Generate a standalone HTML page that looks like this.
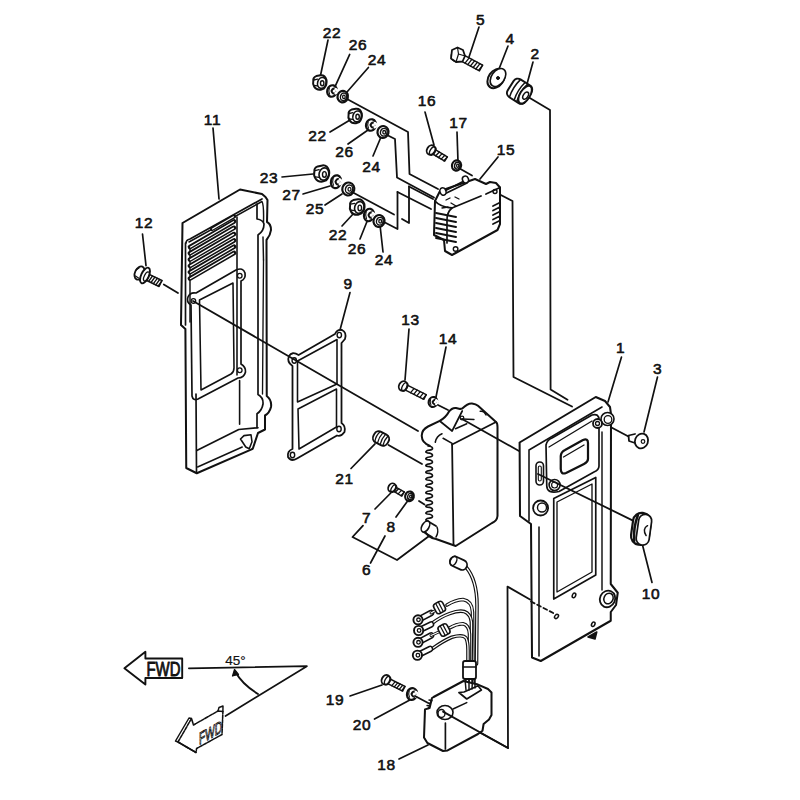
<!DOCTYPE html>
<html><head><meta charset="utf-8"><style>
html,body{margin:0;padding:0;background:#fff;width:800px;height:800px;overflow:hidden}
svg{display:block}
text{font-family:"Liberation Sans",sans-serif;fill:#111;stroke:#111;stroke-width:0.6px;text-anchor:middle}
</style></head><body>
<svg width="800" height="800" viewBox="0 0 800 800">
<g fill="none" stroke="#111" stroke-linecap="round" stroke-linejoin="round">
<text x="332" y="37.5" font-size="15.5" letter-spacing="0.6" >22</text>
<text x="358" y="49.7" font-size="15.5" letter-spacing="0.6" >26</text>
<text x="377" y="64.7" font-size="15.5" letter-spacing="0.6" >24</text>
<text x="480.5" y="25" font-size="15.5" letter-spacing="0.6" >5</text>
<text x="510" y="44" font-size="15.5" letter-spacing="0.6" >4</text>
<text x="535" y="59" font-size="15.5" letter-spacing="0.6" >2</text>
<text x="427" y="106" font-size="15.5" letter-spacing="0.6" >16</text>
<text x="458.5" y="128" font-size="15.5" letter-spacing="0.6" >17</text>
<text x="506" y="155" font-size="15.5" letter-spacing="0.6" >15</text>
<text x="317.5" y="141" font-size="15.5" letter-spacing="0.6" >22</text>
<text x="344.5" y="157" font-size="15.5" letter-spacing="0.6" >26</text>
<text x="371.5" y="172" font-size="15.5" letter-spacing="0.6" >24</text>
<text x="269" y="183" font-size="15.5" letter-spacing="0.6" >23</text>
<text x="291.5" y="200" font-size="15.5" letter-spacing="0.6" >27</text>
<text x="315" y="214" font-size="15.5" letter-spacing="0.6" >25</text>
<text x="338" y="240" font-size="15.5" letter-spacing="0.6" >22</text>
<text x="357" y="254" font-size="15.5" letter-spacing="0.6" >26</text>
<text x="384" y="265" font-size="15.5" letter-spacing="0.6" >24</text>
<text x="212.5" y="125" font-size="15.5" letter-spacing="0.6" >11</text>
<text x="144" y="228" font-size="15.5" letter-spacing="0.6" >12</text>
<text x="348" y="289" font-size="15.5" letter-spacing="0.6" >9</text>
<text x="410.5" y="325" font-size="15.5" letter-spacing="0.6" >13</text>
<text x="448" y="344" font-size="15.5" letter-spacing="0.6" >14</text>
<text x="620.5" y="352.5" font-size="15.5" letter-spacing="0.6" >1</text>
<text x="657.5" y="374" font-size="15.5" letter-spacing="0.6" >3</text>
<text x="344.6" y="484" font-size="15.5" letter-spacing="0.6" >21</text>
<text x="366.5" y="522.5" font-size="15.5" letter-spacing="0.6" >7</text>
<text x="391" y="531.5" font-size="15.5" letter-spacing="0.6" >8</text>
<text x="366.5" y="575" font-size="15.5" letter-spacing="0.6" >6</text>
<text x="651" y="599" font-size="15.5" letter-spacing="0.6" >10</text>
<text x="335" y="705" font-size="15.5" letter-spacing="0.6" >19</text>
<text x="362" y="730" font-size="15.5" letter-spacing="0.6" >20</text>
<text x="386.5" y="770" font-size="15.5" letter-spacing="0.6" >18</text>
<path d="M328.0,40.0 L320.6,75.0" stroke-width="1.68" />
<path d="M349.7,54.4 L335.6,85.3" stroke-width="1.68" />
<path d="M368.4,67.5 L347.0,92.0" stroke-width="1.68" />
<path d="M479.0,27.0 L469.0,57.0" stroke-width="1.68" />
<path d="M508.0,46.0 L499.0,69.0" stroke-width="1.68" />
<path d="M533.0,62.0 L527.0,84.0" stroke-width="1.68" />
<path d="M425.0,112.0 L434.0,145.0" stroke-width="1.68" />
<path d="M457.0,132.0 L458.0,162.0" stroke-width="1.68" />
<path d="M498.0,157.0 L480.0,179.0" stroke-width="1.68" />
<path d="M330.0,132.0 L350.0,120.0" stroke-width="1.68" />
<path d="M348.0,144.0 L368.0,130.0" stroke-width="1.68" />
<path d="M373.0,156.0 L381.0,137.0" stroke-width="1.68" />
<path d="M282.0,177.0 L313.0,174.0" stroke-width="1.68" />
<path d="M303.0,194.0 L330.0,186.0" stroke-width="1.68" />
<path d="M325.0,205.0 L342.0,194.0" stroke-width="1.68" />
<path d="M342.0,226.0 L354.0,213.0" stroke-width="1.68" />
<path d="M360.0,239.0 L368.0,219.0" stroke-width="1.68" />
<path d="M383.0,252.0 L380.0,225.0" stroke-width="1.68" />
<path d="M213.0,128.0 L219.0,199.0" stroke-width="1.68" />
<path d="M142.5,234.0 L146.0,265.6" stroke-width="1.68" />
<path d="M350.0,292.5 L340.0,330.0" stroke-width="1.68" />
<path d="M409.0,329.0 L405.0,380.0" stroke-width="1.68" />
<path d="M446.0,347.0 L436.0,397.0" stroke-width="1.68" />
<path d="M621.5,357.0 L608.0,402.0" stroke-width="1.68" />
<path d="M657.5,377.0 L644.0,432.0" stroke-width="1.68" />
<path d="M351.0,468.5 L375.0,443.8" stroke-width="1.68" />
<path d="M375.0,509.0 L390.8,493.0" stroke-width="1.68" />
<path d="M396.0,517.0 L407.6,501.0" stroke-width="1.68" />
<path d="M370.5,563.0 L385.0,536.0" stroke-width="1.68" />
<path d="M642.5,545.0 L652.0,582.5" stroke-width="1.68" />
<path d="M350.0,696.0 L382.0,685.0" stroke-width="1.68" />
<path d="M374.5,719.0 L409.8,700.0" stroke-width="1.68" />
<path d="M399.0,759.0 L428.0,745.0" stroke-width="1.68" />
<path d="M313.3,80.8 Q312.9,77.4 316.3,76.1 L320.6,75.3 Q324.8,74.8 326.5,80.0 Q327.3,85.0 323.9,88.5 L320.6,89.7 Q316.3,90.2 314.2,86.8 Q312.5,84.2 313.3,80.8 Z" stroke-width="2" fill="#fff"/>
<ellipse cx="321.8" cy="82.9" rx="4.2" ry="5.5" transform="rotate(15 321.8 82.9)" stroke-width="1.6"/>
<ellipse cx="322.2" cy="83.3" rx="1.7" ry="2.5" stroke-width="1.4"/>
<path d="M313.8,80.0 L317.6,79.1 M314.2,85.5 L317.6,85.9" stroke-width="1.3"/>
<ellipse cx="332" cy="91" rx="4.8" ry="5.8" transform="rotate(15 332 91)" stroke-width="2.2" fill="#fff"/>
<path d="M335.6,89.0 Q333.0,87.5 331.5,91.0 Q332.5,94.5 335.6,93.3" stroke-width="2"/>
<path d="M335.6,89.0 L337.3,90.4 M335.6,93.3 L337.1,92.2" stroke="#fff" stroke-width="2.5"/>
<path d="M329.4,88.1 Q328.2,91.0 329.6,94.2" stroke-width="1.1"/>
<ellipse cx="342.75" cy="96.6" rx="5.2" ry="5.8" transform="rotate(15 342.75 96.6)" stroke-width="2.2" fill="#fff"/>
<ellipse cx="343.6" cy="96.6" rx="3.1" ry="3.8" transform="rotate(15 342.75 96.6)" stroke-width="1.4"/>
<ellipse cx="343.9" cy="96.9" rx="1.3" ry="1.7" stroke-width="1.3"/>
<path d="M348.6,114.3 Q348.2,110.9 351.6,109.6 L355.9,108.8 Q360.1,108.3 361.8,113.5 Q362.6,118.5 359.2,122.0 L355.9,123.2 Q351.6,123.7 349.5,120.2 Q347.8,117.7 348.6,114.3 Z" stroke-width="2" fill="#fff"/>
<ellipse cx="357.1" cy="116.4" rx="4.2" ry="5.5" transform="rotate(15 357.1 116.4)" stroke-width="1.6"/>
<ellipse cx="357.6" cy="116.8" rx="1.7" ry="2.5" stroke-width="1.4"/>
<path d="M349.1,113.5 L352.9,112.6 M349.5,119.0 L352.9,119.4" stroke-width="1.3"/>
<ellipse cx="371" cy="125" rx="5" ry="5.8" transform="rotate(15 371 125)" stroke-width="2.2" fill="#fff"/>
<path d="M374.8,123.0 Q372.0,121.5 370.5,125.0 Q371.5,128.5 374.8,127.3" stroke-width="2"/>
<path d="M374.8,123.0 L376.5,124.4 M374.8,127.3 L376.3,126.2" stroke="#fff" stroke-width="2.5"/>
<path d="M368.2,122.1 Q367.0,125.0 368.5,128.2" stroke-width="1.1"/>
<ellipse cx="383" cy="132" rx="5.5" ry="6" transform="rotate(15 383 132)" stroke-width="2.2" fill="#fff"/>
<ellipse cx="383.8" cy="132.0" rx="3.3" ry="3.9" transform="rotate(15 383 132)" stroke-width="1.4"/>
<ellipse cx="384.2" cy="132.3" rx="1.4" ry="1.8" stroke-width="1.3"/>
<path d="M314.4,171.6 Q313.9,167.8 317.7,166.4 L322.4,165.4 Q327.2,164.9 329.1,170.7 Q330.1,176.3 326.2,180.2 L322.4,181.6 Q317.7,182.1 315.3,178.2 Q313.4,175.4 314.4,171.6 Z" stroke-width="2" fill="#fff"/>
<ellipse cx="323.9" cy="174.0" rx="4.8" ry="6.2" transform="rotate(15 323.9 174.0)" stroke-width="1.6"/>
<ellipse cx="324.4" cy="174.4" rx="1.9" ry="2.8" stroke-width="1.4"/>
<path d="M314.9,170.7 L319.1,169.7 M315.3,176.8 L319.1,177.3" stroke-width="1.3"/>
<ellipse cx="336" cy="181.7" rx="5" ry="6.5" transform="rotate(15 336 181.7)" stroke-width="2.2" fill="#fff"/>
<path d="M339.8,179.4 Q337.0,177.8 335.5,181.7 Q336.5,185.6 339.8,184.3" stroke-width="2"/>
<path d="M339.8,179.4 L341.5,181.0 M339.8,184.3 L341.3,183.0" stroke="#fff" stroke-width="2.5"/>
<path d="M333.2,178.4 Q332.0,181.7 333.5,185.3" stroke-width="1.1"/>
<ellipse cx="348.3" cy="189" rx="6" ry="6.5" transform="rotate(15 348.3 189)" stroke-width="2.2" fill="#fff"/>
<ellipse cx="349.1" cy="189.0" rx="3.6" ry="4.2" transform="rotate(15 348.3 189)" stroke-width="1.4"/>
<ellipse cx="349.5" cy="189.3" rx="1.5" ry="1.9" stroke-width="1.3"/>
<path d="M350.1,205.2 Q349.6,201.5 353.3,200.1 L357.9,199.2 Q362.5,198.7 364.4,204.2 Q365.3,209.8 361.6,213.4 L357.9,214.8 Q353.3,215.3 351.0,211.6 Q349.2,208.8 350.1,205.2 Z" stroke-width="2" fill="#fff"/>
<ellipse cx="359.3" cy="207.5" rx="4.6" ry="6.0" transform="rotate(15 359.3 207.5)" stroke-width="1.6"/>
<ellipse cx="359.8" cy="207.9" rx="1.8" ry="2.8" stroke-width="1.4"/>
<path d="M350.6,204.2 L354.7,203.3 M351.0,210.2 L354.7,210.7" stroke-width="1.3"/>
<ellipse cx="369" cy="215" rx="5" ry="6.3" transform="rotate(15 369 215)" stroke-width="2.2" fill="#fff"/>
<path d="M372.8,212.8 Q370.0,211.2 368.5,215.0 Q369.5,218.8 372.8,217.5" stroke-width="2"/>
<path d="M372.8,212.8 L374.5,214.4 M372.8,217.5 L374.3,216.3" stroke="#fff" stroke-width="2.5"/>
<path d="M366.2,211.8 Q365.0,215.0 366.5,218.5" stroke-width="1.1"/>
<ellipse cx="379" cy="221" rx="5.5" ry="6" transform="rotate(15 379 221)" stroke-width="2.2" fill="#fff"/>
<ellipse cx="379.8" cy="221.0" rx="3.3" ry="3.9" transform="rotate(15 379 221)" stroke-width="1.4"/>
<ellipse cx="380.2" cy="221.3" rx="1.4" ry="1.8" stroke-width="1.3"/>
<path d="M458.5,59.6 L479.4,70.9 M461.6,53.8 L482.6,65.1 M479.4,70.9 L482.6,65.1" stroke-width="1.5"/>
<path d="M465.0,63.1 L469.2,57.9" stroke-width="1.3"/>
<path d="M467.7,64.6 L471.9,59.3" stroke-width="1.3"/>
<path d="M470.4,66.0 L474.6,60.8" stroke-width="1.3"/>
<path d="M473.1,67.5 L477.3,62.3" stroke-width="1.3"/>
<path d="M475.8,69.0 L480.0,63.7" stroke-width="1.3"/>
<path d="M478.5,70.4 L482.7,65.2" stroke-width="1.3"/>
<ellipse cx="457.0" cy="55.0" rx="5.2" ry="6.5" transform="rotate(28.4 457.0 55.0)" stroke-width="1.8" fill="#fff"/>
<ellipse cx="458.8" cy="56.0" rx="3.2" ry="5.9" transform="rotate(28.4 458.8 56.0)" stroke-width="1.4"/>
<path d="M452,50 L457.5,47.5 L463,50 L465,56 L462.5,61.5 L456,62 L451,58.5 Z" stroke-width="1.8" fill="#fff"/>
<path d="M457.5,47.5 L458.5,54 L456,62 M458.5,54 L465,56" stroke-width="1.2"/>
<ellipse cx="496" cy="78.5" rx="7.5" ry="10.5" transform="rotate(35 496 78.5)" stroke-width="2"/>
<ellipse cx="498" cy="77.5" rx="6.5" ry="10" transform="rotate(35 498 77.5)" stroke-width="1.6" fill="#fff"/>
<circle cx="498" cy="78" r="1.5" fill="#111"/>
<path d="M432.7,154.0 L444.7,161.2 M435.3,149.6 L447.3,156.8 M444.7,161.2 L447.3,156.8" stroke-width="1.5"/>
<path d="M435.7,155.8 L439.4,152.0" stroke-width="1.3"/>
<path d="M438.4,157.5 L442.1,153.6" stroke-width="1.3"/>
<path d="M441.1,159.1 L444.8,155.2" stroke-width="1.3"/>
<path d="M443.8,160.7 L447.5,156.9" stroke-width="1.3"/>
<ellipse cx="431.0" cy="150.0" rx="4.0" ry="5.0" transform="rotate(31.0 431.0 150.0)" stroke-width="1.8" fill="#fff"/>
<ellipse cx="432.7" cy="151.0" rx="2.5" ry="4.5" transform="rotate(31.0 432.7 151.0)" stroke-width="1.4"/>
<ellipse cx="456.5" cy="165.5" rx="4.5" ry="5.2" transform="rotate(15 456.5 165.5)" stroke-width="2.2" fill="#fff"/>
<ellipse cx="457.3" cy="165.5" rx="2.7" ry="3.4" transform="rotate(15 456.5 165.5)" stroke-width="1.4"/>
<ellipse cx="457.7" cy="165.8" rx="1.1" ry="1.6" stroke-width="1.3"/>
<path d="M405.0,389.9 L423.8,399.3 M407.3,385.2 L426.2,394.7 M423.8,399.3 L426.2,394.7" stroke-width="1.5"/>
<path d="M410.6,392.7 L414.0,388.6" stroke-width="1.3"/>
<path d="M413.7,394.3 L417.1,390.1" stroke-width="1.3"/>
<path d="M416.8,395.8 L420.2,391.7" stroke-width="1.3"/>
<path d="M419.9,397.3 L423.3,393.2" stroke-width="1.3"/>
<path d="M422.9,398.9 L426.3,394.8" stroke-width="1.3"/>
<ellipse cx="403.0" cy="386.0" rx="4.0" ry="5.0" transform="rotate(26.6 403.0 386.0)" stroke-width="1.8" fill="#fff"/>
<ellipse cx="404.8" cy="386.9" rx="2.5" ry="4.5" transform="rotate(26.6 404.8 386.9)" stroke-width="1.4"/>
<ellipse cx="433" cy="402" rx="4.3" ry="5" transform="rotate(15 433 402)" stroke-width="2.2" fill="#fff"/>
<path d="M436.2,400.2 Q433.9,399.0 432.6,402.0 Q433.4,405.0 436.2,404.0" stroke-width="2"/>
<path d="M436.2,400.2 L437.8,401.5 M436.2,404.0 L437.6,403.0" stroke="#fff" stroke-width="2.5"/>
<path d="M430.6,399.5 Q429.6,402.0 430.9,404.8" stroke-width="1.1"/>
<path d="M393.8,491.4 L401.8,496.1 M396.2,487.3 L404.2,491.9 M401.8,496.1 L404.2,491.9" stroke-width="1.5"/>
<path d="M395.2,492.2 L398.6,488.7" stroke-width="1.3"/>
<path d="M398.1,493.9 L401.5,490.4" stroke-width="1.3"/>
<path d="M400.9,495.6 L404.4,492.0" stroke-width="1.3"/>
<ellipse cx="392.0" cy="487.6" rx="3.6" ry="4.5" transform="rotate(30.2 392.0 487.6)" stroke-width="1.8" fill="#fff"/>
<ellipse cx="393.7" cy="488.6" rx="2.2" ry="4.0" transform="rotate(30.2 393.7 488.6)" stroke-width="1.4"/>
<ellipse cx="409.5" cy="496.3" rx="4.3" ry="4.8" transform="rotate(15 409.5 496.3)" stroke-width="2.2" fill="#fff"/>
<ellipse cx="410.3" cy="496.3" rx="2.6" ry="3.1" transform="rotate(15 409.5 496.3)" stroke-width="1.4"/>
<ellipse cx="410.7" cy="496.6" rx="1.1" ry="1.4" stroke-width="1.3"/>
<path d="M387.7,683.6 L402.6,691.1 M390.0,679.0 L404.9,686.4 M402.6,691.1 L404.9,686.4" stroke-width="1.5"/>
<path d="M391.8,685.7 L395.2,681.6" stroke-width="1.3"/>
<path d="M394.3,686.9 L397.7,682.8" stroke-width="1.3"/>
<path d="M396.7,688.2 L400.1,684.0" stroke-width="1.3"/>
<path d="M399.2,689.4 L402.6,685.3" stroke-width="1.3"/>
<path d="M401.7,690.6 L405.1,686.5" stroke-width="1.3"/>
<ellipse cx="385.8" cy="679.8" rx="4.0" ry="5.0" transform="rotate(26.6 385.8 679.8)" stroke-width="1.8" fill="#fff"/>
<ellipse cx="387.5" cy="680.6" rx="2.5" ry="4.5" transform="rotate(26.6 387.5 680.6)" stroke-width="1.4"/>
<ellipse cx="412" cy="694" rx="5" ry="6" transform="rotate(15 412 694)" stroke-width="2.2" fill="#fff"/>
<path d="M415.8,691.9 Q413.0,690.4 411.5,694.0 Q412.5,697.6 415.8,696.4" stroke-width="2"/>
<path d="M415.8,691.9 L417.5,693.4 M415.8,696.4 L417.3,695.2" stroke="#fff" stroke-width="2.5"/>
<path d="M409.2,691.0 Q408.0,694.0 409.5,697.3" stroke-width="1.1"/>
<path d="M144.7,279.5 L159.1,286.5 M147.6,273.6 L161.9,280.5 M159.1,286.5 L161.9,280.5" stroke-width="1.5"/>
<path d="M148.6,281.4 L152.5,276.0" stroke-width="1.3"/>
<path d="M151.0,282.5 L154.9,277.1" stroke-width="1.3"/>
<path d="M153.4,283.7 L157.3,278.3" stroke-width="1.3"/>
<path d="M155.8,284.9 L159.7,279.5" stroke-width="1.3"/>
<path d="M158.2,286.0 L162.1,280.6" stroke-width="1.3"/>
<ellipse cx="143.0" cy="275.0" rx="4.8" ry="6.0" transform="rotate(25.9 143.0 275.0)" stroke-width="1.8" fill="#fff"/>
<ellipse cx="144.8" cy="275.9" rx="3.0" ry="5.4" transform="rotate(25.9 144.8 275.9)" stroke-width="1.4"/>
<ellipse cx="139.5" cy="273" rx="4.5" ry="7" transform="rotate(25 139.5 273)" stroke-width="1.8" fill="#fff"/>
<path d="M136,270 L139,268 M135.5,276 L138.5,278" stroke-width="1.2"/>
<ellipse cx="145" cy="275.5" rx="3.8" ry="8.5" transform="rotate(25 145 275.5)" stroke-width="1.9" fill="#fff"/>
<ellipse cx="146.5" cy="276.5" rx="2.2" ry="5" transform="rotate(25 146.5 276.5)" stroke-width="1.3"/>
<path d="M347.0,99.0 L408.0,132.0 L409.5,174.0 L438.0,189.0" stroke-width="1.79" />
<path d="M387.0,135.0 L395.0,139.0 L397.0,177.5 L434.0,197.5" stroke-width="1.79" />
<path d="M409.0,186.5 L433.0,199.0" stroke-width="1.79" />
<path d="M409.0,186.5 L409.0,223.0 L402.0,219.0" stroke-width="1.79" />
<path d="M352.0,192.0 L394.0,214.5" stroke-width="1.79" />
<path d="M397.5,192.0 L397.5,229.0 L384.0,222.0" stroke-width="1.79" />
<path d="M397.5,192.0 L431.0,209.0" stroke-width="1.79" />
<path d="M529.0,97.5 L550.0,110.0 L550.6,389.6 L567.5,399.8" stroke-width="1.79" />
<path d="M496.0,192.5 L512.5,201.0 L513.5,377.0 L572.0,406.5" stroke-width="1.79" />
<path d="M193.0,301.0 L418.0,431.0" stroke-width="1.79" />
<path d="M462.0,419.0 L519.0,451.0" stroke-width="1.79" />
<path d="M438.0,405.0 L448.0,410.0" stroke-width="1.79" />
<path d="M460.5,169.0 L472.0,175.5" stroke-width="1.79" />
<path d="M388.5,445.0 L422.0,464.0" stroke-width="1.79" />
<path d="M419.0,501.0 L424.5,504.5" stroke-width="1.79" />
<path d="M363.0,525.6 L352.5,537.0 L397.0,560.0 L428.8,536.2" stroke-width="1.79" />
<path d="M605.8,424.5 L628.5,436.5" stroke-width="1.79" />
<path d="M446.0,714.0 L508.0,748.0 L507.5,586.6 L530.0,599.5" stroke-width="1.79" />
<path d="M163.8,284.4 L178.0,293.0" stroke-width="1.79" />
<g transform="rotate(32 520 91.5)">
<rect x="509" y="81" width="21" height="21" rx="5" stroke-width="2" fill="#fff"/>
<path d="M514,81.5 Q511.5,91.5 514,101.5 M519.5,81.5 Q517,91.5 519.5,101.5 M522.5,81.5 Q520,91.5 522.5,101.5" stroke-width="1.5"/>
<ellipse cx="526" cy="91.5" rx="5" ry="10" stroke-width="2" fill="#fff"/>
<ellipse cx="527" cy="92" rx="2.3" ry="4" stroke-width="1.5"/>
</g>
<path d="M440,191 L475,179 L486,184 L490,182 L496,183 L500,187.5 L500,224 L497.5,230 L452,255 L445,251 L444,240 L434,235 L435,201 Z" stroke-width="2.02" fill="#fff"/>
<path d="M435,201 Q440,207 452,208 L481,196 M486,194 L500,187.5" stroke-width="1.79" />
<path d="M452,208 Q447,212 447,220 L447,243" stroke-width="1.68" />
<path d="M436,213 L456,217" stroke-width="1.90" />
<path d="M436,218 L456,222" stroke-width="1.90" />
<path d="M436,223 L456,227" stroke-width="1.90" />
<path d="M436,228 L456,232" stroke-width="1.90" />
<path d="M436,233 L456,237" stroke-width="1.90" />
<path d="M436,238 L456,242" stroke-width="1.90" />
<path d="M493,206.0 L499,203.0" stroke-width="1.79" />
<path d="M493,210.5 L499,207.5" stroke-width="1.79" />
<path d="M493,215.0 L499,212.0" stroke-width="1.79" />
<path d="M493,219.5 L499,216.5" stroke-width="1.79" />
<path d="M493,224.0 L499,221.0" stroke-width="1.79" />
<path d="M445.5,190.5 L465,180.5 M446.5,193 L467,183" stroke-width="1.68" />
<ellipse cx="443" cy="191.5" rx="3" ry="3.8" transform="rotate(-20 443 191.5)" stroke-width="1.6" fill="#fff"/>
<ellipse cx="465.5" cy="179.5" rx="3" ry="3.5" transform="rotate(-20 465.5 179.5)" stroke-width="1.6" fill="#fff"/>
<circle cx="455.6" cy="249" r="2.3" stroke-width="1.4"/>
<circle cx="495" cy="191.5" r="2" stroke-width="1.4"/>
<path d="M446,200 l4,-2 M451,203 l5,3 M455,197 l4,2 M442,208 l6,-1" stroke-width="1.34" />
<path d="M182.5,223 L240,189.5 L262,194 L265.5,197 L267.5,200 L267,222 Q271,224 271,230 Q270.5,235 266.5,240 L266.75,396 Q272,400 271,407 Q269.5,413 265,415.5 L265,429.5 L258,433 L252.75,448.75 L251,449.6 L196.75,473.25 L186.25,468 L185.4,329 L181,325 Z" stroke-width="2.02" />
<path d="M186,243 Q186,240 190,239 L262,199 M257,204 L257,219 Q263,220 264,224 Q264,231 258,235 L258,394.5 Q263.5,397.5 263,404 Q262,410.5 257,413.75 L257,427.75" stroke-width="1.68" />
<path d="M189,242 L262,201.5 Q264,205 263.5,222 M263,237 L263.5,260" stroke-width="1.46" />
<path d="M185.5,243 L185.5,325" stroke-width="1.68" />
<path d="M190,248 L190,322" stroke-width="1.46" />
<path d="M237,217 L237,375 M239.6,380.5 L239.6,424.25" stroke-width="1.57" />
<path d="M263.5,260 L262.5,394" stroke-width="1.34" />
<path d="M190,247.0 L234,221.5" stroke-width="4.6" stroke-linecap="round"/>
<path d="M190.5,247.0 L233.5,221.8" stroke="#fff" stroke-width="1.3"/>
<path d="M190,253.3 L234,227.8" stroke-width="4.6" stroke-linecap="round"/>
<path d="M190.5,253.3 L233.5,228.1" stroke="#fff" stroke-width="1.3"/>
<path d="M190,259.6 L234,234.1" stroke-width="4.6" stroke-linecap="round"/>
<path d="M190.5,259.6 L233.5,234.4" stroke="#fff" stroke-width="1.3"/>
<path d="M190,265.9 L234,240.4" stroke-width="4.6" stroke-linecap="round"/>
<path d="M190.5,265.9 L233.5,240.7" stroke="#fff" stroke-width="1.3"/>
<path d="M190,272.2 L234,246.7" stroke-width="4.6" stroke-linecap="round"/>
<path d="M190.5,272.2 L233.5,247.0" stroke="#fff" stroke-width="1.3"/>
<path d="M190,278.5 L234,253.0" stroke-width="4.6" stroke-linecap="round"/>
<path d="M190.5,278.5 L233.5,253.3" stroke="#fff" stroke-width="1.3"/>
<path d="M212,229 L234,216.5" stroke-width="4.2"/><path d="M212.5,229 L233.5,216.8" stroke="#fff" stroke-width="1.2"/>
<path d="M188,297 Q190,292 196,293 L236,270 Q243,267 245,273 Q246,279 241,281 L241,364 Q246,367 245.5,372 Q244,378 238,378 L198,399 Q193,401 192,396 L191,305 Q186,302 188,297 Z" stroke-width="1.68" />
<path d="M199.5,300 L233,283 L234,368 Q234,372 231,374 L201,390 Z" stroke-width="1.57" />
<circle cx="193.4" cy="301" r="2.3" stroke-width="1.3"/>
<circle cx="239.75" cy="275.75" r="2.3" stroke-width="1.3"/>
<circle cx="239.75" cy="370.25" r="2.3" stroke-width="1.3"/>
<path d="M196,394 L196.5,472" stroke-width="1.68" />
<path d="M196.75,450.5 L238.75,429.5 L258,427.75" stroke-width="1.68" />
<path d="M197.6,467 L242.25,447" stroke-width="1.46" />
<path d="M240.5,439 L244,435.6 L251,434.75 L252,441.75 L249.25,448.75 L245.75,447 Z" stroke-width="1.57" />
<path d="M289,356 Q292,351 298.6,355 L335,334 Q337,329 342,330 Q347,332.5 345,339 L341.5,343 L341.5,423 Q346,426 344.5,432 Q341,437 337,435.5 L297,458.5 Q291,462 288,457 Q287,451 292.5,449 L292.5,366 Q286.5,362 289,356 Z" stroke-width="1.79" />
<path d="M297.5,361 L337,339.5 L337,384 L297.5,402 Z" stroke-width="1.57" />
<path d="M298,409 L336.5,389 L336.5,427 L299,449 Z" stroke-width="1.57" />
<ellipse cx="294.25" cy="360.5" rx="2.2" ry="2.7" stroke-width="1.4"/>
<ellipse cx="339.3" cy="335.1" rx="2.2" ry="2.7" stroke-width="1.4"/>
<ellipse cx="339" cy="429" rx="2.2" ry="2.7" stroke-width="1.4"/>
<ellipse cx="292.5" cy="455" rx="2.2" ry="2.7" stroke-width="1.4"/>
<path d="M429.6,445.6 Q422,443 421.75,436 Q421.5,430 428,426.5 L439.75,420.9 Q446,417 448.75,411.9 Q452,407.5 456,408 L460,409 Q461,408.5 462.25,408.5 Q468,403 472,403.5 Q476,404 478,405.7 L496,422 Q497.5,423 497.5,427 L497.5,516 Q497,521 492,523 L455.7,546 L436,539 Q428,538 424,530 Q422,525 426,522" stroke-width="2.02" />
<path d="M452.1,444.5 L496,422" stroke-width="1.79" />
<path d="M452.1,444.5 L453.5,545" stroke-width="1.79" />
<path d="M439.75,421 L452.1,431 L458.9,417.5 L462.25,411" stroke-width="1.68" />
<path d="M480.25,411.3 Q484,410.5 486,415" stroke-width="1.46" />
<path d="M455.5,428.75 L466.75,423.7 M443.1,438.3 L452.1,443.4" stroke-width="1.57" />
<path d="M435.25,442.25 Q436.5,436 442,433.8" stroke-width="1.57" />
<path d="M462,419 L474,419.5" stroke-width="1.34" />
<circle cx="462" cy="418" r="1.8" stroke-width="1.3"/>
<path d="M428,446 C434,446.5 433.5,450.0 429.5,450.2 C426,450.4 424.5,452.5 427.5,452.8 C434,453.3 433.5,456.8 429.5,457.0 C426,457.2 424.5,459.3 427.5,459.6 C434,460.1 433.5,463.6 429.5,463.8 C426,464.0 424.5,466.1 427.5,466.4 C434,466.9 433.5,470.4 429.5,470.6 C426,470.8 424.5,472.9 427.5,473.2 C434,473.7 433.5,477.2 429.5,477.4 C426,477.6 424.5,479.7 427.5,480.0 C434,480.5 433.5,484.0 429.5,484.2 C426,484.4 424.5,486.5 427.5,486.8 C434,487.3 433.5,490.8 429.5,491.0 C426,491.2 424.5,493.3 427.5,493.6 C434,494.1 433.5,497.6 429.5,497.8 C426,498.0 424.5,500.1 427.5,500.4 C434,500.9 433.5,504.4 429.5,504.6 C426,504.8 424.5,506.9 427.5,507.2 C434,507.7 433.5,511.2 429.5,511.4 C426,511.6 424.5,513.7 427.5,514.0 C434,514.5 433.5,518.0 429.5,518.2 C426,518.4 424.5,520.5 427.5,520.8" stroke-width="1.68" />
<path d="M427.5,521 L436,526 M423.5,532 L432,537" stroke-width="1.79" />
<ellipse cx="425.5" cy="526.5" rx="3.5" ry="6" transform="rotate(30 425.5 526.5)" stroke-width="1.6" fill="#fff"/>
<path d="M437,527 Q439,532 436,537" stroke-width="1.46" />
<g transform="rotate(28 381 438.5)"><rect x="373" y="432.5" width="16" height="12" rx="5" stroke-width="1.9" fill="#fff"/>
<path d="M377,433 Q375,438.5 377,444 M380,433 Q378.5,438.5 380,444 M383,433 Q381.5,438.5 383,444 M386,433 Q384.5,438.5 386,444" stroke-width="1.3"/></g>
<path d="M519.6,442.5 L595.75,397 L605,401 L610,407 L611,414 L610.75,584 L617.75,592.75 L616,605 L610.75,612 L610.75,620.75 L540.75,661 L532,657.5 L531,524 L520,516 Z" stroke-width="2.02" fill="#fff"/>
<path d="M539,527 L539,656" stroke-width="1.57" />
<path d="M529,450 L602,407 M529,450 L529,521" stroke-width="1.57" />
<path d="M602,432 L602,590" stroke-width="1.46" />
<path d="M546,445 Q547,440 552,438 L592,415 Q599,413 599,420 L599,466 Q599,470 594,472 L559,491.5 Q547,494 546.75,486 Z" stroke-width="1.68" />
<path d="M549,447 L592,421" stroke-width="1.34" />
<path d="M560.75,456 Q561,452 565,450 L583,440 Q588,438 588,443 L588,459 Q588,462 584,464 L566,473 Q561,475 560.75,469 Z" stroke-width="2.24" />
<path d="M563.5,457 L584,445" stroke-width="1.34" />
<rect x="536" y="462" width="7.5" height="23" rx="3.7" stroke-width="1.6"/>
<rect x="538.3" y="466" width="3" height="15" rx="1.5" stroke-width="1.1"/>
<circle cx="554.6" cy="485" r="5.5" stroke-width="1.6"/>
<circle cx="554.6" cy="485" r="3" stroke-width="1.2"/>
<circle cx="607.5" cy="419" r="6.5" stroke-width="1.6" fill="#fff"/>
<circle cx="608" cy="419.5" r="3.8" stroke-width="1.3"/>
<circle cx="597.5" cy="423.5" r="4.5" stroke-width="1.8" fill="#fff"/>
<circle cx="597.5" cy="423.5" r="2" stroke-width="1.3"/>
<circle cx="540.6" cy="508" r="7.5" stroke-width="1.8" fill="#fff"/>
<circle cx="542" cy="507.5" r="4.5" stroke-width="1.4"/>
<path d="M553.75,498.5 L595.75,477.5 L595.75,575 L553.75,599 Z" stroke-width="1.68" />
<path d="M557,502 L592,484 L592,572 L557,592 Z" stroke-width="1.34" />
<ellipse cx="607.5" cy="598.9" rx="7.5" ry="8.5" transform="rotate(25 607.5 598.9)" stroke-width="1.8" fill="#fff"/>
<ellipse cx="608.5" cy="598.5" rx="4.5" ry="5.5" transform="rotate(25 608.5 598.5)" stroke-width="1.5"/>
<ellipse cx="574" cy="595.4" rx="1.6" ry="2.4" transform="rotate(25 574 595.4)" stroke-width="1.5"/>
<ellipse cx="556.5" cy="616.4" rx="1.6" ry="2.4" transform="rotate(40 556.5 616.4)" stroke-width="1.5"/>
<ellipse cx="593.25" cy="624.25" rx="1.6" ry="2.4" transform="rotate(25 593.25 624.25)" stroke-width="1.5"/>
<path d="M588,637 L596.75,632 L595,639 Z" stroke-width="1.57" fill="#111"/>
<path d="M538.0,474.0 L633.0,520.6" stroke-width="1.79" />
<path d="M531.0,601.5 L554.8,613.8" stroke-width="1.79" stroke-dasharray="4,3"/>
<ellipse cx="641.5" cy="441" rx="6.5" ry="7.5" transform="rotate(20 641.5 441)" stroke-width="1.8" fill="#fff"/>
<path d="M635,434 L628.5,435.5 L629,441 L635,443" stroke-width="1.79" />
<circle cx="643" cy="441.5" r="1.8" stroke-width="1.2"/>
<g transform="rotate(8 642.5 529)">
<rect x="632" y="513" width="18" height="32" rx="8.5" stroke-width="2.2" fill="#fff"/>
<path d="M636,516 Q633,529 636,542" stroke-width="2.5"/>
<rect x="637.5" y="514" width="13" height="31" rx="6.5" stroke-width="1.7" fill="#fff"/>
<path d="M647,525 Q642,529 647,535" stroke-width="1.5"/>
</g>
<path d="M466,567 Q477,580 477,605 L476.5,664" stroke-width="3.6"/>
<path d="M466,567 Q477,580 477,605 L476.5,664" stroke="#fff" stroke-width="1.3"/>
<path d="M447,605 Q455,600 463,599.5 Q472,601 472.5,612 L473,664" stroke-width="3.6"/>
<path d="M447,605 Q455,600 463,599.5 Q472,601 472.5,612 L473,664" stroke="#fff" stroke-width="1.3"/>
<path d="M431.5,623.75 Q440,617 449.5,613.6 Q462,609 467,613 Q472,617 471.5,626 L471,664" stroke-width="3.6"/>
<path d="M431.5,623.75 Q440,617 449.5,613.6 Q462,609 467,613 Q472,617 471.5,626 L471,664" stroke="#fff" stroke-width="1.3"/>
<path d="M449.5,628 Q456,624 463,623.75 Q469,625 469.5,634 L469.5,664" stroke-width="3.6"/>
<path d="M449.5,628 Q456,624 463,623.75 Q469,625 469.5,634 L469.5,664" stroke="#fff" stroke-width="1.3"/>
<path d="M432.6,648.5 Q443,641 451.75,637.25 Q463,634 466,638 Q468,642 468,650 L468,664" stroke-width="3.6"/>
<path d="M432.6,648.5 Q443,641 451.75,637.25 Q463,634 466,638 Q468,642 468,650 L468,664" stroke="#fff" stroke-width="1.3"/>
<g transform="rotate(25 458 563)"><rect x="449.5" y="558" width="18" height="10" rx="5" stroke-width="1.8" fill="#fff"/><ellipse cx="453" cy="563" rx="3" ry="5" stroke-width="1.4"/></g>
<path d="M418,619.8 L431,613" stroke-width="6.5"/><path d="M418,619.8 L431,613" stroke="#fff" stroke-width="3.6"/>
<circle cx="418" cy="619.8" r="4.6" stroke-width="1.9" fill="#fff"/><circle cx="418.5" cy="619.8" r="1.8" stroke-width="1.3"/>
<path d="M418.6,630.5 L431,624.5" stroke-width="6.5"/><path d="M418.6,630.5 L431,624.5" stroke="#fff" stroke-width="3.6"/>
<circle cx="418.6" cy="630.5" r="4.6" stroke-width="1.9" fill="#fff"/><circle cx="419.1" cy="630.5" r="1.8" stroke-width="1.3"/>
<path d="M418,642.3 L431,635.5" stroke-width="6.5"/><path d="M418,642.3 L431,635.5" stroke="#fff" stroke-width="3.6"/>
<circle cx="418" cy="642.3" r="4.6" stroke-width="1.9" fill="#fff"/><circle cx="418.5" cy="642.3" r="1.8" stroke-width="1.3"/>
<path d="M417.4,655.25 L430,649" stroke-width="6.5"/><path d="M417.4,655.25 L430,649" stroke="#fff" stroke-width="3.6"/>
<circle cx="417.4" cy="655.25" r="4.6" stroke-width="1.9" fill="#fff"/><circle cx="417.9" cy="655.25" r="1.8" stroke-width="1.3"/>
<path d="M431,613 L438,609" stroke-width="3.0"/>
<path d="M431,613 L438,609" stroke="#fff" stroke-width="1.1"/>
<path d="M431,635.5 L442,630.5" stroke-width="3.0"/>
<path d="M431,635.5 L442,630.5" stroke="#fff" stroke-width="1.1"/>
<g transform="rotate(-28 439.5 607.5)"><rect x="434.5" y="602.0" width="10" height="11" rx="3" stroke-width="1.6" fill="#fff"/><path d="M438.0,602.5 L438.0,612.5 M441.0,602.5 L441.0,612.5" stroke-width="1.2"/></g>
<g transform="rotate(-28 444 630)"><rect x="439" y="624.5" width="10" height="11" rx="3" stroke-width="1.6" fill="#fff"/><path d="M442.5,625 L442.5,635 M445.5,625 L445.5,635" stroke-width="1.2"/></g>
<rect x="463" y="661" width="13" height="18" rx="2" stroke-width="1.8" fill="#fff"/>
<path d="M463,667 L476,667" stroke-width="1.34" />
<path d="M466,679 L465,692 M469,679 L469,692 M472,679 L472.5,692 M474,679 L475,692" stroke-width="1.46" />
<path d="M425,709.4 L429.6,708 L432,698 L433.6,697 L463.4,681 L478,684.6 L488,689 L491.5,692.5 L491.5,715 L489,719.5 L483.6,724 L482.5,730.75 L478,734 L447.6,750.4 L443,751 L427.4,743 L424,737.5 Z" stroke-width="2.02" fill="#fff"/>
<path d="M458.9,692.5 L466.75,699 L481.4,690 L478,685.75 L472,688.5 L464,692 Z" stroke-width="1.68" />
<path d="M466,690 L465,679 M469,690 L469,679 M472,689 L472.5,679 M475,688 L475,679" stroke-width="1.46" />
<path d="M445.4,723 L445.4,749" stroke-width="1.68" />
<path d="M453,709 L466.75,702.6" stroke-width="1.57" />
<ellipse cx="445" cy="712.5" rx="8" ry="7" stroke-width="1.6" fill="#fff"/>
<ellipse cx="441.5" cy="713.5" rx="3.5" ry="4" stroke-width="1.4"/>
<path d="M443,711.6 L508,748" stroke-width="1.79" />
<path d="M415,696 L429.6,703.75" stroke-width="1.68" />
<path d="M429,700 L432,700.5 L430,703" stroke-width="1.34" />
<path d="M427,705.5 L430,706 L428,708.5" stroke-width="1.34" />
<path d="M124.4,668.3 L145.4,651.8 L145.4,658.5 L182.2,658.5 L182.2,678 L145.4,678 L145.4,684.6 Z" stroke-width="1.90" />
<text x="146.5" y="676" font-size="20" textLength="34" lengthAdjust="spacingAndGlyphs" style="text-anchor:start;stroke-width:0.9px">FWD</text>
<path d="M188.8,668.3 L306.9,666.2 L225.5,716.0" stroke-width="1.68" />
<text x="235.5" y="665" font-size="13.5" style="stroke-width:0.2px">45°</text>
<path d="M258,694 Q242,684 235.5,672" stroke-width="1.90" />
<path d="M232.5,676 L234.5,669.5 L238.5,674.5 Z" stroke-width="1.23" fill="#111"/>
<path d="M178,742 L191.5,718.5 L193.5,725 L218,711 L222.9,711.5 L222,734.5 L196.6,748.5 L196,752.5 Z" stroke-width="1.57" stroke-dasharray="3.5,1.2"/>
<path d="M178,742 L196,752.5 M191.5,718.5 L189,718 L175.5,741 L178,742 M218,711 L219,707.5 L223,706 L222.9,711.5" stroke-width="1.46" />
<text x="0" y="0" font-size="17" textLength="23" lengthAdjust="spacingAndGlyphs" transform="translate(199 745) skewY(-30)" style="text-anchor:start;fill:none;stroke:#111;stroke-width:1.1px;stroke-dasharray:2.2,1">FWD</text>
</g></svg></body></html>
